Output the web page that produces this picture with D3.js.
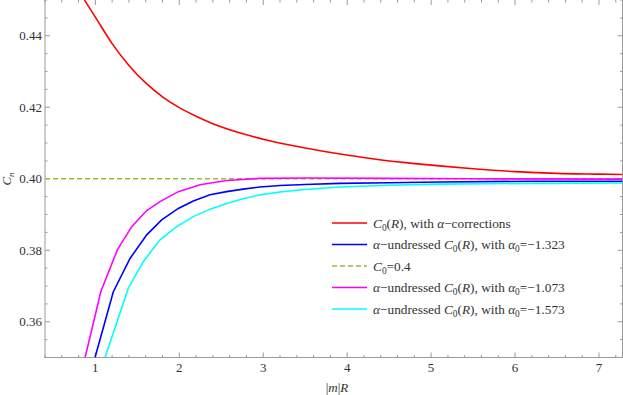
<!DOCTYPE html>
<html><head><meta charset="utf-8">
<script src="https://cdn.jsdelivr.net/npm/d3@7"></script>
<style>body{margin:0;background:#fff}svg{display:block}</style>
</head><body><svg id="c" width="623" height="395"></svg>
<script>
// ---- data ----
const redPts = [[0.87,0.4500],[1.0,0.4452],[1.2,0.4378],[1.4,0.4317],[1.6,0.4268],[1.8,0.4229],[2.0,0.4199],[2.2,0.4175],[2.4,0.4154],[2.8,0.4123],[3.1,0.4105],[3.5,0.4086],[3.9,0.4070],[4.3,0.4056],[4.7,0.4045],[5.1,0.4036],[5.5,0.4028],[6.0,0.4020],[6.5,0.4015],[7.0,0.4013],[7.28,0.4012]];
const bluePts = [[0.996,0.35],[1.214,0.3684],[1.413,0.3777],[1.612,0.3843],[1.79,0.3885],[1.988,0.3917],[2.167,0.3938],[2.366,0.3955],[2.564,0.3964],[2.76,0.3971],[2.96,0.3977],[3.2,0.3981],[3.5,0.3984],[3.91,0.3987],[4.5,0.3989],[5.1,0.3991],[6.2,0.3993],[7.28,0.3993]];
const magentaPts = [[0.877,0.35],[0.976,0.3596],[1.064,0.3684],[1.262,0.3801],[1.433,0.3866],[1.612,0.3911],[1.77,0.3936],[1.988,0.3964],[2.246,0.3983],[2.564,0.3995],[2.96,0.4001],[3.5,0.4002],[4.5,0.4001],[5.5,0.4000],[7.28,0.3999]];
const cyanPts = [[1.115,0.35],[1.393,0.3694],[1.571,0.3768],[1.77,0.3829],[1.969,0.3866],[2.167,0.3894],[2.366,0.3915],[2.564,0.3931],[2.76,0.3944],[2.96,0.3955],[3.2,0.3963],[3.5,0.3970],[3.91,0.3977],[4.5,0.3982],[5.1,0.3985],[6.2,0.3987],[7.28,0.3988]];
const constC0 = 0.4;
const xTicks = [1,2,3,4,5,6,7];
const yTicks = [0.36,0.38,0.40,0.42,0.44];
const xDomain = [0.4, 7.28];
const yDomain = [0.35, 0.45];

// ---- layout ----
const svg = d3.select('#c');
const L = 45, R = 622.5, T = 0, B = 357.5;
const x = d3.scaleLinear().domain(xDomain).range([L, R]);
const y = d3.scaleLinear().domain(yDomain).range([B, T]);
const axisCol = '#9a9a9a', labCol = '#333';
const FF = "'Liberation Serif'";

svg.append('defs').append('clipPath').attr('id','clip')
  .append('rect').attr('x',L).attr('y',T).attr('width',R-L).attr('height',B-T);

// frame (top edge lies just outside the picture)
svg.append('rect').attr('x',L).attr('y',T-1).attr('width',R-L).attr('height',B-T+1)
  .attr('fill','none').attr('stroke',axisCol).attr('stroke-width',1);

const xMinor = d3.range(0.4, 7.3, 0.2).filter(v => Math.abs(v - Math.round(v)) > 1e-6);
const yMinor = d3.range(0.35, 0.4501, 0.005).filter(v => !yTicks.some(t => Math.abs(t - v) < 1e-6));
const tk = svg.append('g').attr('stroke',axisCol).attr('stroke-width',1);
xTicks.forEach(v => { tk.append('line').attr('x1',x(v)).attr('x2',x(v)).attr('y1',B).attr('y2',B-5);
  tk.append('line').attr('x1',x(v)).attr('x2',x(v)).attr('y1',T).attr('y2',T+5); });
xMinor.forEach(v => { tk.append('line').attr('x1',x(v)).attr('x2',x(v)).attr('y1',B).attr('y2',B-2.5);
  tk.append('line').attr('x1',x(v)).attr('x2',x(v)).attr('y1',T).attr('y2',T+2.5); });
yTicks.forEach(v => { tk.append('line').attr('y1',y(v)).attr('y2',y(v)).attr('x1',L).attr('x2',L+5);
  tk.append('line').attr('y1',y(v)).attr('y2',y(v)).attr('x1',R).attr('x2',R-5); });
yMinor.forEach(v => { tk.append('line').attr('y1',y(v)).attr('y2',y(v)).attr('x1',L).attr('x2',L+2.5);
  tk.append('line').attr('y1',y(v)).attr('y2',y(v)).attr('x1',R).attr('x2',R-2.5); });

const fmt = d3.format('.2f');
svg.append('g').selectAll('text').data(yTicks).join('text')
  .attr('x', L-3).attr('y', d => y(d)+4.5).attr('text-anchor','end')
  .style('font-family',FF).style('font-size','13px').attr('fill',labCol).text(fmt);
svg.append('g').selectAll('text').data(xTicks).join('text')
  .attr('x', d => x(d)).attr('y', 372).attr('text-anchor','middle')
  .style('font-family',FF).style('font-size','13px').attr('fill',labCol).text(d => d);

// rich text helper
function rich(sel, parts, size) {
  let shift = 0;
  parts.forEach(p => {
    const t = sel.append('tspan').text(p[0]);
    const st = p[1] || '';
    if (st.includes('i')) t.style('font-style','italic');
    if (st.includes('s')) { t.style('font-size', (size*0.7)+'px').attr('dy', 3 - shift); shift = 3; }
    else if (shift) { t.attr('dy', -shift); shift = 0; }
  });
}

// axis labels
const xl = svg.append('text').attr('x', 337).attr('y', 392).attr('text-anchor','middle')
  .style('font-family',FF).style('font-size','13px').attr('fill',labCol);
rich(xl, [['|'],['m','i'],['|'],['R','i']], 13);
const yl = svg.append('text').attr('transform','translate(11,179) rotate(-90)').attr('text-anchor','middle')
  .style('font-family',FF).style('font-size','13px').attr('fill',labCol);
rich(yl, [['C','i'],['n','is']], 13);

// lines
const smooth = d3.line().x(d => x(d[0])).y(d => y(d[1])).curve(d3.curveMonotoneX);
const straight = d3.line().x(d => x(d[0])).y(d => y(d[1]));
const g = svg.append('g').attr('clip-path','url(#clip)');
g.append('line').attr('x1',L).attr('x2',R).attr('y1',y(constC0)).attr('y2',y(constC0))
  .attr('stroke','#9bbb3b').attr('stroke-width',1.5).attr('stroke-dasharray','5,3');
g.append('path').attr('d', smooth(redPts)).attr('fill','none').attr('stroke','#ff0000').attr('stroke-width',1.6);
g.append('path').attr('d', straight(magentaPts)).attr('fill','none').attr('stroke','#ff00ff').attr('stroke-width',1.6);
g.append('path').attr('d', straight(bluePts)).attr('fill','none').attr('stroke','#0000ff').attr('stroke-width',1.6);
g.append('path').attr('d', straight(cyanPts)).attr('fill','none').attr('stroke','#00ffff').attr('stroke-width',1.6);

// legend
const legend = [
  {c:'#ff0000', dash:null, parts:[['C','i'],['0','s'],['('],['R','i'],['), with '],['α','i'],['−corrections']]},
  {c:'#0000ff', dash:null, parts:[['α','i'],['−undressed '],['C','i'],['0','s'],['('],['R','i'],['), with '],['α','i'],['0','s'],['=−1.323']]},
  {c:'#9bbb3b', dash:'5,3', parts:[['C','i'],['0','s'],['=0.4']]},
  {c:'#ff00ff', dash:null, parts:[['α','i'],['−undressed '],['C','i'],['0','s'],['('],['R','i'],['), with '],['α','i'],['0','s'],['=−1.073']]},
  {c:'#00ffff', dash:null, parts:[['α','i'],['−undressed '],['C','i'],['0','s'],['('],['R','i'],['), with '],['α','i'],['0','s'],['=−1.573']]}
];
legend.forEach((e,i) => {
  const yy = 223 + i*21.5;
  const ln = svg.append('line').attr('x1',332).attr('x2',367).attr('y1',yy).attr('y2',yy)
    .attr('stroke',e.c).attr('stroke-width',1.6);
  if (e.dash) ln.attr('stroke-dasharray',e.dash);
  const t = svg.append('text').attr('x',373).attr('y',yy+4.5)
    .style('font-family',FF).style('font-size','13.3px').attr('fill',labCol);
  rich(t, e.parts, 13.3);
});
</script></body></html>
